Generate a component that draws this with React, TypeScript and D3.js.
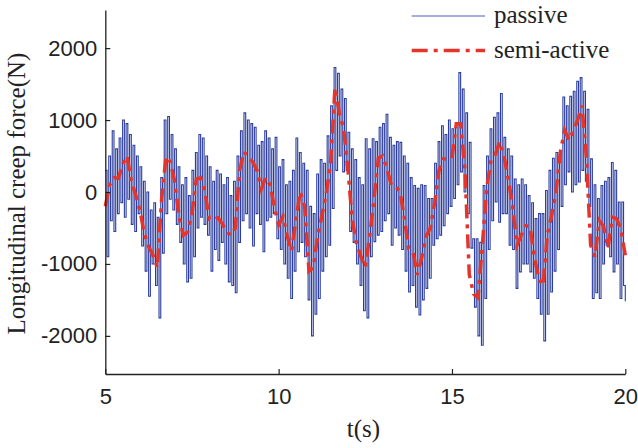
import React, { useEffect, useRef } from "react";
import * as d3 from "d3";

// sampling of the two records (s)
const tStart = 5;
const passiveStep = 0.05;
const semiStep = 0.125;

// passive suspension, longitudinal creep force (N)
const passive = [
  300, -900, 500, -400, 850, -550, 600, -300, 750, -150, 1000, -350, 950, -100, 800, -450, 650, -550, 500, -300,
  350, -750, 150, -1100, 0, -1450, -250, -1000, -150, -1300, -350, -1750, 200, -850, 1000, -300, 1050, -100, 800, -250,
  600, -450, 350, -700, 100, -1000, 200, -1250, -50, -1200, 300, -900, 550, -500, 800, -350, 750, -450, 500, -600,
  350, -1100, 150, -800, 300, -950, 250, -700, 100, -1000, 200, -1250, -50, -1300, 150, -1400, 500, -700, 850, -400,
  1100, -300, 1000, -500, 950, -750, 900, -300, 650, -450, 700, -830, 850, -400, 750, -350, 600, -300, 760, -650,
  350, -800, 450, -1000, 100, -1200, 150, -1480, 300, -1100, 750, -830, 550, -700, 400, -900, 300, -1500, -200, -2000,
  -300, -1700, 250, -1480, 450, -1100, 400, -900, 780, -740, 1200, -230, 1730, 300, 1650, 500, 1430, 280, 1300, 300,
  830, -550, 600, -700, 450, -1000, 200, -1300, 100, -1650, 740, -1750, 600, -900, 740, -690, 700, -600, 900, -550,
  950, -400, 1080, -300, 760, -740, 650, -500, 700, -600, 690, -800, 500, -1100, 400, -1390, 200, -1300, 90, -1600,
  50, -1710, 100, -1500, 90, -1340, -90, -1200, -90, -740, 400, -650, 700, -600, 920, -470, 800, -300, 1000, -200,
  880, -90, 900, 100, 1660, 280, 1430, 0, 1100, -300, 690, -780, -650, -1600, -650, -2000, -700, -2130, 90, -1480,
  500, -800, 880, -400, 1040, -140, 1100, -420, 1370, -300, 760, -300, 600, -740, 500, -800, 180, -1340, 100, -1110,
  180, -1000, 100, -1000, -50, -1110, -150, -1200, -370, -1480, -300, -1700, -300, -2070, 20, -1700, 300, -1390, 470, -1100,
  550, -800, 550, -200, 1320, 100, 1200, 280, 1330, 0, 1400, 100, 1540, 140, 1590, 300, 1400, 150, 1150, -200,
  460, -1480, 100, -1400, -90, -1480, 90, -1000, 150, -740, 200, -900, 410, -1110, 300, -1000, -140, -1480, -140, -1300,
  -1520
];

// semi-active suspension (N)
const semiActive = [
  -200, 100, 200, 190, 380, 500, 160, -40, -260, -580,
  -760, -880, -1050, -100, 490, 420, 150, -330, -600, -560,
  -300, 180, 200, 0, -380, -380, -360, -440, -560, -600,
  -500, 300, 560, 490, 420, 300, 40, 200, 100, -200,
  -460, -340, -620, -820, -380, 0, -200, -1100, -1050, -620,
  -320, -20, 400, 1450, 1100, 880, 300, -400, -720, -900,
  -1050, -620, -100, 470, 500, 320, 100, 80, 0, -350,
  -790, -830, -1150, -920, -620, -500, -150, 300, 460, 460,
  470, 950, 950, 300, -1150, -1420, -1470, -750, 50, 440,
  520, 700, 500, 180, -200, -740, -600, -470, -480, -900,
  -1200, -1300, -600, -330, 0, 550, 860, 720, 850, 1000,
  1200, 500, -740, -900, -400, -480, -780, -350, -370, -530,
  -880
];

const xTicks = [5, 10, 15, 20];
const yTicks = [-2000, -1000, 0, 1000, 2000];
const seriesNames = ["passive", "semi-active"];

const blue = "#2b3d9f";
const red = "#e5352b";
const serif = "'Liberation Serif', 'Times New Roman', serif";
const sans = "'Liberation Sans', Arial, sans-serif";

const App = () => {
  const svgEl = useRef<SVGSVGElement>(null);

  useEffect(() => {
    if (!svgEl.current) return;
    drawChartOn(svgEl.current);
  }, [svgEl]);

  return (
    <svg
      ref={svgEl}
      width={638}
      height={448}
      style={{ position: "absolute", left: 0, top: 0, background: "#fff" }}
    ></svg>
  );
};

function drawChartOn(svgEl: SVGSVGElement) {
  const svg = d3.select(svgEl);
  svg.selectAll("*").remove();

  const x = d3.scaleLinear().domain([5, 20]).range([105.3, 625.3]);
  const y = d3.scaleLinear().domain([-2530, 2530]).range([374, 10]);

  const passiveLine = d3
    .line<number>()
    .x((d, i) => x(tStart + i * passiveStep))
    .y((d) => y(d))
    .curve(d3.curveStepAfter);

  const semiLine = d3
    .line<number>()
    .x((d, i) => x(tStart + i * semiStep))
    .y((d) => y(d));

  svg
    .append("path")
    .attr("d", passiveLine(passive))
    .attr("fill", "none")
    .attr("stroke", blue)
    .attr("stroke-width", 1.1);

  svg
    .append("path")
    .attr("d", semiLine(semiActive))
    .attr("fill", "none")
    .attr("stroke", red)
    .attr("stroke-width", 3.5)
    .attr("stroke-dasharray", "14,6,4,6");

  // axes (ticks point inwards)
  const xAxis = svg
    .append("g")
    .attr("transform", "translate(0,374)")
    .call(d3.axisBottom(x).tickValues(xTicks).tickSizeInner(-5).tickSizeOuter(0).tickPadding(14));

  const yAxis = svg
    .append("g")
    .attr("transform", "translate(105.3,0)")
    .call(
      d3
        .axisLeft(y)
        .tickValues(yTicks)
        .tickSizeInner(-5)
        .tickSizeOuter(0)
        .tickPadding(8)
        .tickFormat((d) => String(d))
    );

  [xAxis, yAxis].forEach((g) => {
    g.select(".domain").attr("stroke", "#222").attr("stroke-width", 1.3);
    g.selectAll(".tick line").attr("stroke", "#222").attr("stroke-width", 1.2);
    g.selectAll(".tick text")
      .attr("fill", "#222")
      .style("font-family", sans)
      .style("font-size", "22px");
  });

  // axis titles
  svg
    .append("text")
    .attr("x", 363.5)
    .attr("y", 437)
    .attr("text-anchor", "middle")
    .style("font-family", serif)
    .style("font-size", "25px")
    .attr("fill", "#222")
    .text("t(s)");

  svg
    .append("text")
    .attr("transform", "translate(25,193.5) rotate(-90)")
    .attr("text-anchor", "middle")
    .style("font-family", serif)
    .style("font-size", "25px")
    .attr("fill", "#222")
    .text("Longitudinal creep force(N)");

  // legend
  const legend = svg.append("g");
  const legendY = [16, 50.5];
  legend
    .selectAll("line")
    .data(seriesNames)
    .enter()
    .append("line")
    .attr("x1", 411.7)
    .attr("x2", 485)
    .attr("y1", (d, i) => legendY[i])
    .attr("y2", (d, i) => legendY[i])
    .attr("stroke", (d, i) => (i === 0 ? "#4a5fbb" : red))
    .attr("stroke-width", (d, i) => (i === 0 ? 1.2 : 3.5))
    .attr("stroke-dasharray", (d, i) => (i === 0 ? null : "16,6,4,6"));

  legend
    .selectAll("text")
    .data(seriesNames)
    .enter()
    .append("text")
    .attr("x", 494)
    .attr("y", (d, i) => legendY[i] + 7)
    .style("font-family", serif)
    .style("font-size", "25px")
    .attr("fill", "#222")
    .text((d) => d);
}

export default App;
